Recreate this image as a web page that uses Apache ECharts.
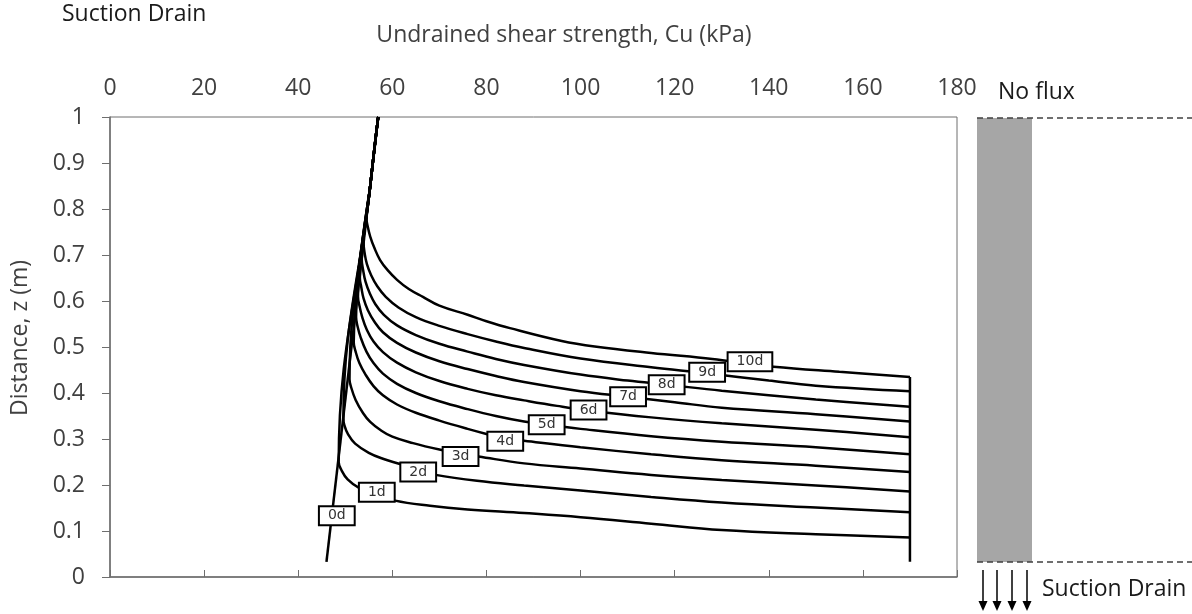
<!DOCTYPE html>
<html>
<head>
<meta charset="utf-8">
<script src="https://cdn.jsdelivr.net/npm/echarts@6/dist/echarts.min.js"></script>
<style>
  html, body { margin: 0; padding: 0; background: #fff; }
  #main { width: 1192px; height: 614px; }
</style>
</head>
<body>
<div id="main"></div>
<script>
// axis ticks
const cuTicks = [0, 20, 40, 60, 80, 100, 120, 140, 160, 180]
const zTicks = [0, 0.1, 0.2, 0.3, 0.4, 0.5, 0.6, 0.7, 0.8, 0.9, 1]

const days = ['0d', '1d', '2d', '3d', '4d', '5d', '6d', '7d', '8d', '9d', '10d']

// profiles: [Cu (kPa), z (m)]
const day0 = [[46, 0.033], [57, 1]]
const day1 = [[170, 0.086], [150, 0.093], [130, 0.102], [115, 0.116], [100, 0.130], [88, 0.139], [76, 0.147], [68, 0.155], [60.6, 0.166], [56.7, 0.180], [53, 0.193], [50.5, 0.212], [49.2, 0.232], [48.6, 0.250], [55.3, 0.85], [56.4, 0.95], [57, 1]]
const day2 = [[170, 0.141], [150, 0.151], [130, 0.162], [115, 0.174], [100, 0.188], [88, 0.199], [78, 0.209], [69.2, 0.222], [65.5, 0.232], [61.8, 0.245], [58, 0.257], [55, 0.270], [52.1, 0.290], [50.6, 0.310], [49.8, 0.330], [49.6, 0.345], [55.3, 0.85], [56.4, 0.95], [57, 1]]
const day3 = [[170, 0.186], [150, 0.199], [130, 0.211], [115, 0.222], [100, 0.236], [88, 0.247], [78.3, 0.262], [74.5, 0.268], [70, 0.277], [64.4, 0.291], [60, 0.305], [57.4, 0.320], [55.3, 0.337], [53.8, 0.356], [52.2, 0.385], [51.2, 0.414], [50.9, 0.430], [55.3, 0.85], [56.4, 0.95], [57, 1]]
const day4 = [[170, 0.228], [150, 0.242], [130, 0.254], [115, 0.267], [100, 0.282], [88, 0.296], [84, 0.301], [80, 0.311], [76, 0.322], [70, 0.340], [65, 0.357], [61, 0.375], [58, 0.395], [56, 0.415], [54.3, 0.440], [53, 0.465], [52.2, 0.490], [51.8, 0.510], [55.3, 0.85], [56.4, 0.95], [57, 1]]
const day5 = [[170, 0.267], [150, 0.282], [130, 0.294], [115, 0.306], [100, 0.322], [92.8, 0.331], [88, 0.338], [82, 0.350], [76, 0.365], [70, 0.382], [65, 0.400], [61, 0.420], [58, 0.442], [56, 0.465], [54.5, 0.490], [53.3, 0.520], [52.6, 0.545], [52.3, 0.565], [55.3, 0.85], [56.4, 0.95], [57, 1]]
const day6 = [[170, 0.304], [150, 0.320], [130, 0.334], [115, 0.347], [101.7, 0.362], [95, 0.372], [88, 0.384], [82, 0.395], [76, 0.409], [70, 0.426], [65, 0.445], [61, 0.466], [58, 0.489], [56, 0.512], [54.6, 0.537], [53.6, 0.565], [53, 0.590], [52.7, 0.610], [55.3, 0.85], [56.4, 0.95], [57, 1]]
const day7 = [[170, 0.338], [150, 0.354], [130, 0.368], [120, 0.380], [110, 0.392], [100, 0.404], [88, 0.424], [82, 0.437], [76, 0.452], [70, 0.469], [65, 0.488], [61, 0.509], [58, 0.532], [56.2, 0.555], [54.8, 0.580], [53.9, 0.605], [53.4, 0.630], [53.1, 0.650], [55.3, 0.85], [56.4, 0.95], [57, 1]]
const day8 = [[170, 0.370], [150, 0.386], [130, 0.405], [118.3, 0.418], [110, 0.427], [100, 0.440], [88, 0.461], [82, 0.474], [76, 0.490], [70, 0.507], [65, 0.526], [61, 0.547], [58.2, 0.570], [56.4, 0.593], [55.2, 0.617], [54.3, 0.642], [53.8, 0.667], [53.5, 0.690], [55.3, 0.85], [56.4, 0.95], [57, 1]]
const day9 = [[170, 0.404], [150, 0.416], [140, 0.427], [126.9, 0.443], [115, 0.456], [100, 0.475], [88, 0.498], [82, 0.512], [76, 0.528], [70, 0.546], [65, 0.565], [61.3, 0.586], [58.6, 0.609], [56.8, 0.632], [55.5, 0.656], [54.6, 0.680], [54.1, 0.705], [53.9, 0.725], [55.3, 0.85], [56.4, 0.95], [57, 1]]
const day10 = [[170, 0.435], [155, 0.446], [141, 0.457], [135, 0.465], [128, 0.474], [115, 0.487], [103, 0.501], [96, 0.513], [85, 0.541], [80, 0.556], [76, 0.570], [70, 0.590], [66.5, 0.609], [63.5, 0.626], [61, 0.646], [59, 0.667], [57.4, 0.689], [56.2, 0.715], [55.3, 0.740], [54.7, 0.765], [54.5, 0.780], [55.3, 0.85], [56.4, 0.95], [57, 1]]
// right boundary at the drain
const drainEdge = [[170, 0.033], [170, 0.435]]

// where the day labels sit
const labelCu = [48.2, 56.7, 65.5, 74.5, 84.0, 92.8, 101.7, 110.1, 118.3, 126.9, 136]
const labelZ = [0.133, 0.184, 0.228, 0.262, 0.295, 0.331, 0.363, 0.392, 0.418, 0.445, 0.468]

const curves = [day0, day1, day2, day3, day4, day5, day6, day7, day8, day9, day10]

const chart = echarts.init(document.getElementById('main'))
const font = '"Open Sans", sans-serif'
const axisColor = '#6e6e6e'

const series = curves.map((d, i) => ({
  name: days[i],
  type: 'line',
  data: d,
  symbol: 'none',
  smooth: i === 0 ? false : 0.4,
  lineStyle: { color: '#000', width: 2.5 },
  z: 2
}))
series.push({
  name: 'drain',
  type: 'line',
  data: drainEdge,
  symbol: 'none',
  lineStyle: { color: '#000', width: 2.5 },
  z: 2
})
series.push({
  name: 'labels',
  type: 'scatter',
  symbolSize: 1,
  itemStyle: { color: 'rgba(0,0,0,0)', opacity: 1 },
  data: days.map((d, i) => ({ name: d, value: [labelCu[i], labelZ[i]] })),
  label: {
    show: true,
    position: 'inside',
    formatter: p => p.name,
    fontFamily: '"DejaVu Sans", sans-serif',
    fontSize: 14,
    color: '#333',
    backgroundColor: '#fff',
    borderColor: '#000',
    borderWidth: 2,
    padding: [2, 8, 1, 8]
  },
  emphasis: { disabled: true },
  z: 5
})

const option = {
  animation: false,
  backgroundColor: '#fff',
  grid: {
    left: 110, right: 235, top: 117, bottom: 37,
    show: true, borderColor: axisColor, borderWidth: 1
  },
  xAxis: {
    type: 'value',
    position: 'top',
    min: cuTicks[0],
    max: cuTicks[cuTicks.length - 1],
    interval: cuTicks[1] - cuTicks[0],
    axisLine: { show: true, lineStyle: { color: axisColor, width: 1.5 } },
    axisTick: { show: true, length: 7, lineStyle: { color: axisColor } },
    axisLabel: { fontFamily: font, fontSize: 23, color: '#404040', margin: 17 },
    splitLine: { show: false }
  },
  yAxis: {
    type: 'value',
    min: zTicks[0],
    max: zTicks[zTicks.length - 1],
    interval: zTicks[1] - zTicks[0],
    axisLine: { show: true, lineStyle: { color: axisColor, width: 1.5 } },
    axisTick: { show: true, length: 8, lineStyle: { color: axisColor } },
    axisLabel: { fontFamily: font, fontSize: 23, color: '#404040', margin: 25 },
    splitLine: { show: false }
  },
  series: series,
  graphic: [
    { type: 'text', left: 62, top: 3, style: { text: 'Suction Drain', font: '23px ' + font, fill: '#1a1a1a' } },
    { type: 'text', x: 564, y: 35, style: { text: 'Undrained shear strength, Cu (kPa)', font: '23px ' + font, fill: '#404040', align: 'center', verticalAlign: 'middle' } },
    { type: 'text', x: 20, y: 338, rotation: Math.PI / 2, style: { text: 'Distance, z (m)', font: '23px ' + font, fill: '#404040', align: 'center', verticalAlign: 'middle' } },
    // soil column sketch
    { type: 'rect', shape: { x: 977, y: 118, width: 55, height: 444 }, style: { fill: '#a6a6a6' } },
    { type: 'line', shape: { x1: 977, y1: 118, x2: 1192, y2: 118 }, style: { stroke: '#404040', lineWidth: 1.5, lineDash: [6, 4] } },
    { type: 'line', shape: { x1: 977, y1: 562, x2: 1192, y2: 562 }, style: { stroke: '#404040', lineWidth: 1.5, lineDash: [6, 4] } },
    { type: 'text', x: 998, y: 92, style: { text: 'No flux', font: '23px ' + font, fill: '#1a1a1a', verticalAlign: 'middle' } },
    { type: 'text', x: 1042, y: 589, style: { text: 'Suction Drain', font: '23px ' + font, fill: '#1a1a1a', verticalAlign: 'middle' } }
  ]
}

// drain arrows
;[983, 997, 1012, 1027].forEach(ax => {
  option.graphic.push({ type: 'line', shape: { x1: ax, y1: 570, x2: ax, y2: 603 }, style: { stroke: '#000', lineWidth: 1.5 } })
  option.graphic.push({ type: 'polygon', shape: { points: [[ax - 4.5, 601], [ax + 4.5, 601], [ax, 611]] }, style: { fill: '#000' } })
})

chart.setOption(option)
</script>
</body>
</html>
